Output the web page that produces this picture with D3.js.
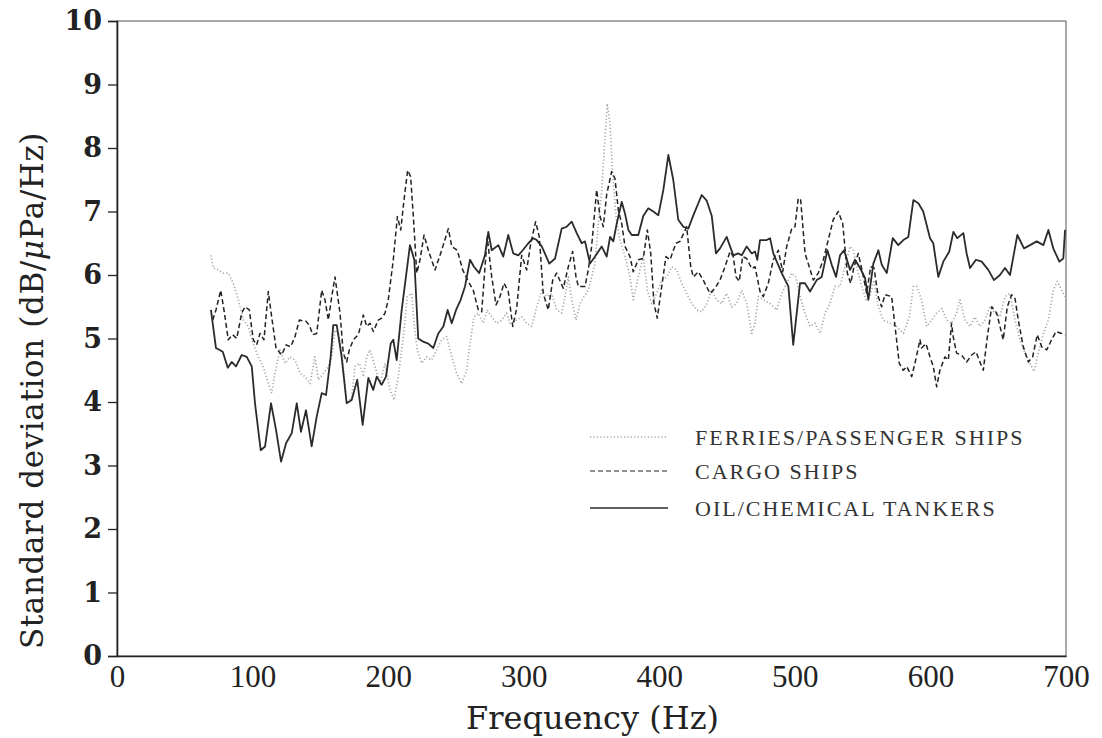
<!DOCTYPE html>
<html>
<head>
<meta charset="utf-8">
<script src="https://cdn.jsdelivr.net/npm/d3@7"></script>
<style>
  body { margin: 0; background: #fff; }
  svg { display: block; }
</style>
</head>
<body>
<svg id="chart" width="1102" height="738"></svg>
<script>
// [frequency (Hz), standard deviation (dB/uPa/Hz)]
const ferries = [[69.3,6.31],[71.0,6.11],[74.7,6.08],[78.4,6.03],[82.1,6.03],[85.8,5.87],[89.5,5.61],[93.2,5.29],[96.8,5.19],[100.5,4.92],[104.2,4.71],[107.9,4.56],[111.6,4.29],[114.1,4.14],[116.5,4.45],[120.2,4.82],[123.9,4.61],[127.6,4.71],[131.3,4.66],[135.0,4.45],[138.7,4.40],[142.4,4.29],[146.0,4.71],[148.5,4.35],[152.2,4.45],[155.9,4.56],[158.4,4.71],[160.8,5.13],[163.2,5.08],[165.7,4.82],[169.4,3.98],[173.1,4.08],[175.5,4.56],[178.7,4.61],[181.7,4.40],[184.2,4.71],[186.6,4.82],[190.3,4.56],[194.0,4.29],[197.7,4.61],[201.4,4.19],[204.3,4.03],[207.5,4.40],[211.2,5.03],[214.1,5.66],[217.4,5.71],[219.1,5.24],[221.5,4.82],[224.7,4.61],[228.4,4.71],[232.1,4.66],[235.8,4.82],[239.5,4.98],[243.2,5.03],[246.9,4.71],[250.6,4.45],[254.2,4.29],[257.9,4.50],[260.4,4.92],[263.3,5.34],[266.5,5.40],[270.2,5.24],[273.1,5.45],[276.4,5.34],[280.1,5.24],[283.8,5.29],[287.4,5.40],[289.9,5.24],[294.8,5.29],[298.5,5.34],[302.2,5.24],[305.9,5.19],[309.6,5.50],[313.3,5.76],[316.9,5.66],[320.6,5.71],[324.3,5.45],[328.0,5.40],[330.5,5.66],[332.9,5.97],[335.4,5.61],[338.6,5.29],[341.5,5.55],[344.5,5.66],[347.6,5.76],[350.1,5.97],[352.6,6.18],[355.0,6.81],[357.5,7.34],[359.9,8.13],[361.6,8.70],[363.6,8.39],[365.6,7.60],[368.1,6.92],[371.0,6.55],[374.7,6.29],[378.4,5.97],[380.8,5.61],[384.5,5.97],[388.2,6.29],[391.2,5.76],[394.4,5.55],[398.1,5.71],[401.8,5.92],[405.5,5.97],[409.2,6.13],[412.8,6.08],[416.5,5.87],[420.2,5.71],[423.9,5.55],[427.6,5.45],[431.3,5.42],[435.0,5.55],[438.7,5.76],[442.3,5.61],[446.0,5.55],[449.7,5.71],[453.4,5.50],[457.1,5.55],[460.8,5.76],[464.5,5.55],[468.2,5.08],[470.6,5.24],[473.0,5.66],[476.7,5.61],[481.7,5.55],[486.6,5.45],[490.3,5.71],[494.0,5.87],[497.7,6.03],[500.8,5.97],[503.8,5.66],[507.5,5.40],[511.2,5.19],[514.9,5.24],[518.6,5.08],[522.2,5.40],[525.9,5.55],[529.6,5.82],[533.3,5.82],[537.0,6.13],[540.7,6.45],[543.1,6.39],[545.6,6.13],[549.3,5.82],[552.5,5.61],[555.4,5.66],[558.4,5.92],[561.5,5.50],[565.2,5.29],[570.2,5.24],[575.1,5.19],[580.0,5.08],[584.5,5.34],[587.4,5.82],[589.8,5.82],[593.5,5.61],[597.2,5.19],[600.9,5.29],[604.6,5.40],[608.3,5.47],[612.0,5.29],[615.6,5.24],[619.3,5.40],[621.8,5.61],[625.5,5.29],[629.2,5.19],[632.9,5.34],[636.5,5.19],[640.2,5.29],[643.9,5.50],[647.6,5.40],[651.3,5.34],[655.0,5.66],[658.7,5.71],[662.4,5.29],[666.1,4.98],[669.7,4.77],[673.4,4.61],[676.4,4.48],[679.6,4.77],[683.3,5.08],[687.0,5.29],[690.6,5.76],[693.6,5.90],[696.8,5.76],[699.3,5.66]];

const cargo = [[70.6,5.29],[73.0,5.45],[76.5,5.76],[78.9,5.45],[82.1,4.98],[85.3,5.06],[88.3,5.00],[92.0,5.40],[94.4,5.50],[97.6,5.45],[100.5,4.98],[103.0,4.90],[105.5,5.08],[108.4,4.98],[111.6,5.74],[114.1,5.34],[117.3,4.85],[121.5,4.74],[124.7,4.90],[128.1,4.87],[131.3,5.03],[134.5,5.29],[139.4,5.27],[141.8,5.21],[144.4,5.06],[147.3,5.08],[151.0,5.76],[153.4,5.61],[155.9,5.29],[158.4,5.66],[160.8,5.97],[164.5,5.40],[166.9,4.77],[169.4,4.63],[171.4,4.82],[174.3,4.98],[178.0,5.06],[181.7,5.37],[184.2,5.19],[186.6,5.24],[189.1,5.11],[192.7,5.29],[195.2,5.32],[197.7,5.40],[200.1,5.61],[203.8,6.24],[206.8,6.92],[209.3,6.71],[211.7,7.18],[214.4,7.65],[216.6,7.55],[218.6,6.92],[221.1,6.03],[223.5,6.24],[226.5,6.63],[229.6,6.39],[234.6,6.08],[239.5,6.39],[244.4,6.73],[246.9,6.45],[251.0,6.39],[255.0,6.08],[259.1,5.90],[262.8,5.76],[266.5,5.45],[269.0,5.42],[273.1,6.60],[276.4,5.97],[279.6,5.53],[282.5,5.66],[285.5,5.87],[288.6,5.74],[291.9,5.19],[294.8,5.47],[298.5,6.31],[302.2,6.08],[305.2,6.50],[308.8,6.84],[311.5,6.60],[314.4,5.71],[318.1,5.45],[321.4,5.92],[324.3,6.03],[329.2,5.79],[332.9,6.13],[336.1,6.37],[338.6,5.97],[340.3,5.82],[345.2,5.82],[347.6,6.08],[350.1,6.45],[353.8,7.34],[356.3,6.92],[358.7,6.76],[361.2,7.27],[364.9,7.63],[367.3,7.52],[369.8,7.02],[372.3,6.81],[374.7,6.45],[378.4,6.29],[380.8,6.05],[384.5,6.24],[388.2,6.26],[391.2,6.71],[393.7,6.34],[396.1,5.55],[398.5,5.32],[401.8,5.82],[404.9,6.29],[407.9,6.24],[412.3,6.50],[415.3,6.53],[420.2,6.76],[423.2,6.13],[425.1,5.97],[428.8,6.05],[432.4,5.92],[437.4,5.71],[441.1,5.79],[444.8,5.92],[448.5,6.13],[452.2,6.37],[454.6,6.29],[456.6,5.97],[459.0,5.90],[461.5,6.29],[464.5,6.26],[468.2,6.10],[470.6,6.13],[474.3,5.74],[476.7,5.66],[480.4,5.87],[484.1,6.24],[487.8,6.39],[491.0,6.05],[494.0,6.45],[497.7,6.73],[500.1,6.76],[502.5,7.21],[504.3,7.18],[507.5,6.34],[510.6,6.13],[513.6,5.92],[517.3,6.03],[521.0,6.24],[524.6,6.55],[528.3,6.87],[532.0,7.00],[535.3,6.81],[538.7,6.03],[541.2,5.87],[543.6,6.13],[546.8,6.34],[550.0,6.03],[553.0,5.71],[555.9,6.13],[558.4,6.11],[561.5,5.66],[564.0,5.50],[566.5,5.69],[571.4,5.66],[573.9,5.19],[577.0,4.61],[580.0,4.50],[582.5,4.56],[586.2,4.40],[589.1,4.66],[592.3,4.98],[593.5,4.85],[596.7,4.92],[599.7,4.71],[602.1,4.56],[604.6,4.24],[607.0,4.50],[610.7,4.71],[613.2,4.66],[615.6,5.24],[616.8,5.03],[619.3,4.77],[623.0,4.74],[626.7,4.63],[630.4,4.74],[633.6,4.79],[636.5,4.63],[639.0,4.50],[642.0,5.03],[645.2,5.50],[648.9,5.40],[651.3,5.19],[653.7,4.98],[656.7,5.50],[659.9,5.69],[662.4,5.63],[664.8,5.29],[668.5,4.87],[672.2,4.63],[675.4,4.71],[678.8,5.06],[682.1,4.87],[685.8,4.82],[689.4,4.98],[692.6,5.11],[696.8,5.08],[699.3,5.06]];

const tankers = [[69.3,5.45],[70.6,5.24],[73.0,4.85],[78.0,4.79],[81.7,4.54],[84.6,4.63],[87.8,4.56],[92.0,4.74],[95.7,4.71],[99.4,4.56],[101.8,3.98],[106.0,3.24],[109.2,3.30],[113.6,3.98],[117.3,3.56],[121.0,3.06],[124.7,3.35],[128.9,3.51],[132.6,3.98],[135.7,3.53],[139.4,3.87],[143.6,3.30],[147.3,3.77],[151.0,4.14],[154.2,4.11],[157.6,4.71],[159.5,5.21],[162.1,5.21],[165.7,4.71],[169.4,3.98],[173.1,4.03],[177.2,4.35],[181.2,3.64],[185.4,4.38],[189.0,4.19],[191.6,4.40],[195.2,4.27],[198.4,4.40],[201.9,4.92],[203.8,4.98],[206.3,4.66],[210.0,5.45],[216.1,6.47],[219.3,6.24],[222.2,5.00],[225.9,4.95],[229.6,4.92],[233.3,4.85],[237.0,5.08],[240.7,5.19],[243.9,5.45],[246.9,5.24],[250.1,5.45],[253.5,5.61],[256.7,5.82],[260.4,6.24],[263.3,6.13],[267.2,6.03],[271.4,6.31],[273.9,6.68],[276.4,6.39],[281.3,6.47],[284.9,6.29],[288.6,6.63],[292.3,6.34],[296.0,6.31],[299.3,6.39],[303.4,6.50],[307.1,6.58],[309.6,6.55],[313.3,6.45],[318.9,6.18],[323.1,6.26],[328.0,6.73],[331.7,6.76],[335.4,6.84],[339.1,6.66],[342.8,6.50],[345.2,6.53],[348.9,6.18],[352.6,6.29],[357.5,6.45],[361.2,6.29],[363.7,6.60],[366.1,6.53],[368.6,6.81],[372.3,7.15],[374.7,6.97],[377.2,6.71],[379.7,6.63],[384.5,6.63],[388.2,6.93],[391.9,7.05],[395.6,7.00],[399.3,6.94],[403.0,7.34],[406.7,7.89],[410.3,7.50],[414.0,6.87],[417.7,6.76],[421.4,6.73],[425.1,6.94],[431.3,7.26],[435.0,7.17],[438.7,6.93],[441.8,6.34],[444.8,6.42],[449.7,6.60],[452.2,6.45],[454.6,6.31],[458.3,6.34],[460.8,6.31],[464.5,6.45],[468.2,6.34],[470.6,6.37],[472.3,6.24],[474.3,6.55],[479.2,6.55],[481.7,6.58],[484.1,6.34],[490.3,6.03],[495.2,5.82],[498.8,4.90],[503.8,5.87],[507.5,5.87],[511.2,5.74],[516.1,5.92],[519.8,5.97],[524.0,6.39],[527.2,6.16],[530.4,5.97],[533.3,6.31],[536.3,6.39],[540.7,6.08],[544.4,6.24],[548.1,6.11],[551.8,5.95],[554.2,5.61],[557.9,6.18],[561.6,6.39],[564.1,6.16],[567.8,6.03],[572.2,6.58],[576.3,6.47],[580.0,6.55],[583.7,6.60],[587.4,7.18],[591.1,7.13],[594.7,7.00],[599.7,6.58],[602.1,6.50],[605.8,5.97],[609.5,6.21],[613.9,6.37],[616.9,6.68],[619.8,6.58],[624.3,6.66],[626.7,6.34],[629.2,6.11],[633.6,6.24],[637.8,6.21],[642.7,6.08],[646.9,5.92],[651.3,6.00],[655.0,6.11],[658.7,6.00],[664.1,6.63],[669.0,6.42],[673.5,6.47],[678.4,6.53],[683.3,6.47],[687.0,6.71],[690.6,6.42],[695.1,6.21],[698.0,6.26],[699.3,6.71]];

const xTicks = [0, 100, 200, 300, 400, 500, 600, 700];
const yTicks = [0, 1, 2, 3, 4, 5, 6, 7, 8, 9, 10];
const seriesNames = ["FERRIES/PASSENGER SHIPS", "CARGO SHIPS", "OIL/CHEMICAL TANKERS"];

const svg = d3.select("#chart");
const margin = { top: 21, right: 36, bottom: 82, left: 117 };
const width = 1102 - margin.left - margin.right;
const height = 738 - margin.top - margin.bottom;

const g = svg.append("g").attr("transform", `translate(${margin.left},${margin.top})`);

const x = d3.scaleLinear().domain([0, 700]).range([0, width]);
const y = d3.scaleLinear().domain([0, 10]).range([height, 0]);

// frame
g.append("rect")
  .attr("x", 0).attr("y", 0)
  .attr("width", width).attr("height", height)
  .attr("fill", "none")
  .attr("stroke", "#555")
  .attr("stroke-width", 1);

// y axis
const yAxis = g.append("g")
  .call(d3.axisLeft(y).tickValues(yTicks).tickSize(9).tickPadding(6).tickFormat(d3.format("d")));
yAxis.select(".domain").attr("stroke", "#222").attr("stroke-width", 1.6);
yAxis.selectAll(".tick line").attr("stroke", "#222").attr("stroke-width", 1.3);
yAxis.selectAll(".tick text")
  .attr("fill", "#222")
  .style("font-family", "'DejaVu Serif', serif")
  .style("font-weight", "bold")
  .style("font-size", "27px");

// x axis, no tick marks
const xAxis = g.append("g")
  .attr("transform", `translate(0,${height})`)
  .call(d3.axisBottom(x).tickValues(xTicks).tickSize(0).tickPadding(6).tickFormat(d3.format("d")));
xAxis.select(".domain").attr("stroke", "#222").attr("stroke-width", 1.6);
xAxis.selectAll(".tick text")
  .attr("fill", "#222")
  .attr("dy", "0.8em")
  .style("font-family", "'Liberation Serif', serif")
  .style("font-size", "31px");

// axis titles
svg.append("text")
  .attr("x", margin.left + x(350) + 1)
  .attr("y", 729)
  .attr("text-anchor", "middle")
  .attr("fill", "#222")
  .style("font-family", "'DejaVu Serif', serif")
  .style("font-size", "32px")
  .text("Frequency (Hz)");

const yTitle = svg.append("text")
  .attr("transform", `translate(43,${margin.top + y(5) + 52}) rotate(-90)`)
  .attr("text-anchor", "middle")
  .attr("fill", "#222")
  .style("font-family", "'DejaVu Serif', serif")
  .style("font-size", "31px")
  .style("letter-spacing", "0.6px");
yTitle.append("tspan").text("Standard deviation (dB/");
yTitle.append("tspan").style("font-style", "italic").text("\u03bc");
yTitle.append("tspan").text("Pa/Hz)");

// lines
const line = d3.line()
  .x(d => x(d[0]))
  .y(d => y(d[1]));

const styles = [
  { data: ferries, stroke: "#a8a8a8", width: 1.7, dash: "1.2,2.2" },
  { data: cargo, stroke: "#222", width: 1.5, dash: "5,3" },
  { data: tankers, stroke: "#2b2b2b", width: 1.8, dash: null }
];

styles.forEach(s => {
  g.append("path")
    .datum(s.data)
    .attr("fill", "none")
    .attr("stroke", s.stroke)
    .attr("stroke-width", s.width)
    .attr("stroke-linejoin", "round")
    .attr("stroke-dasharray", s.dash)
    .attr("d", line);
});

// legend
const legend = svg.append("g").attr("transform", "translate(590,437)");
styles.forEach((s, i) => {
  const yy = [0, 34, 71][i];
  legend.append("line")
    .attr("x1", 0).attr("x2", 78)
    .attr("y1", yy).attr("y2", yy)
    .attr("stroke", s.stroke)
    .attr("stroke-width", s.width - 0.3)
    .attr("stroke-dasharray", s.dash);
  legend.append("text")
    .attr("x", 105)
    .attr("y", yy + 8)
    .attr("fill", "#333")
    .style("font-family", "'Liberation Serif', serif")
    .style("font-size", "22px")
    .style("letter-spacing", "2px")
    .text(seriesNames[i]);
});
</script>
</body>
</html>
